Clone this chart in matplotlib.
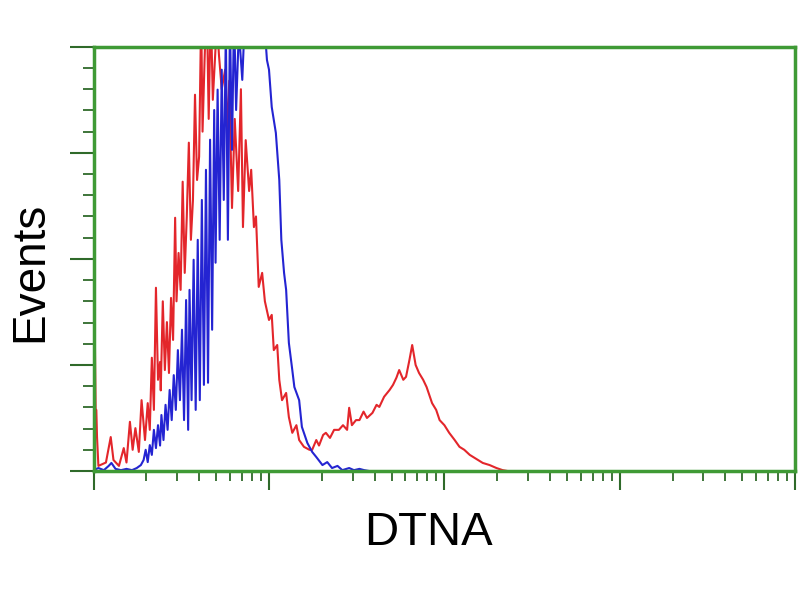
import numpy as np
import matplotlib
matplotlib.use('Agg')
import matplotlib.pyplot as plt
from matplotlib.ticker import LogLocator, MultipleLocator, NullFormatter

plt.rcParams['font.family'] = ['Liberation Sans', 'DejaVu Sans']

# log channel (256 channels per decade) and event counts
red_ch = [0, 2, 3, 4, 5, 7, 18, 25, 29, 37, 44, 48, 53, 57, 61, 66, 70, 75, 79, 82, 85, 88, 91,
          94, 97, 98, 101, 104, 107, 110, 113, 116, 119, 121, 124, 127, 130, 133, 136, 139,
          142, 145, 148, 151, 154, 157, 159, 162, 165, 168, 171, 174, 177, 180, 183, 187,
          192, 195, 198, 202, 206, 211, 215, 218, 222, 227, 230, 234, 237, 241, 246, 250,
          256, 260, 263, 268, 271, 275, 281, 285, 290, 296, 300, 307, 315, 319, 325, 329,
          335, 339, 345, 351, 358, 364, 370, 373, 377, 383, 388, 394, 399, 407, 413, 417,
          424, 432, 437, 442, 446, 452, 456, 461, 465, 470, 475, 481, 486, 490, 494, 500,
          505, 512, 519, 527, 534, 541, 549, 557, 568, 578, 588, 597, 604]
red_counts = [29.0, 29.0, 14.4, 14.4, 8.0, 1.2, 2.0, 8.0, 2.6, 1.2, 5.4, 2.0, 11.6, 5.0, 10.1,
              4.5, 16.7, 7.3, 16.0, 9.7, 26.7, 14.4, 43.2, 21.5, 25.7, 19.0, 40.0, 23.8, 35.1,
              23.1, 40.8, 30.9, 59.7, 40.0, 51.4, 42.7, 68.2, 46.7, 60.0, 77.4, 54.5, 63.9,
              88.7, 68.6, 74.1, 108, 80.0, 97.0, 112, 83.0, 110, 87.5, 97.0, 106, 98.0, 90.0,
              94.6, 80.0, 92.0, 62.0, 83.0, 66.0, 90.0, 57.5, 78.0, 66.0, 71.0, 57.5, 60.0,
              43.4, 46.7, 40.0, 35.6, 36.8, 28.5, 29.7, 21.5, 16.7, 18.4, 12.7, 9.0, 10.8, 7.3,
              5.7, 5.0, 5.0, 7.3, 6.0, 8.5, 9.0, 7.8, 9.7, 9.7, 10.8, 9.7, 14.9, 10.8, 12.0,
              12.0, 14.0, 12.5, 13.7, 15.6, 15.1, 17.5, 19.1, 20.3, 22.0, 23.8, 21.5, 22.2,
              26.2, 29.7, 25.0, 23.1, 21.5, 19.8, 17.9, 16.0, 14.4, 12.0, 10.8, 9.0, 7.3, 5.7,
              5.0, 3.8, 3.0, 1.9, 1.4, 0.7, 0.2, 0.0]

blue_ch = [0, 7, 15, 22, 26, 32, 40, 48, 56, 63, 69, 73, 76, 79, 82, 85, 88, 91, 94, 97,
           99, 102, 105, 108, 111, 114, 117, 120, 123, 126, 129, 132, 135, 138, 140, 143,
           146, 149, 152, 155, 158, 161, 164, 167, 170, 173, 176, 178, 181, 184, 187, 190,
           193, 196, 199, 202, 205, 208, 212, 217, 221, 227, 234, 241, 249, 253, 256, 260,
           266, 271, 274, 278, 281, 285, 290, 293, 300, 304, 312, 319, 325, 334, 341, 348,
           356, 363, 373, 380, 388, 395, 402]
blue_counts = [0.2, 0.7, 0.2, 1.2, 1.9, 0.5, 0.2, 0.5, 0.2, 0.7, 1.4, 2.6, 5.0, 2.1, 6.1,
               3.8, 9.7, 5.4, 10.8, 6.0, 13.2, 7.3, 15.6, 9.7, 19.1, 12.0, 22.6, 14.4, 28.5,
               16.7, 33.3, 12.0, 40.3, 9.7, 42.7, 16.7, 49.8, 14.4, 54.5, 16.7, 63.9, 20.3,
               71.0, 20.8, 78.1, 33.3, 85.1, 49.1, 89.9, 54.5, 94.6, 63.9, 104, 54.5, 106,
               75.7, 108, 85.1, 104, 92.2, 108, 115, 120, 118, 106, 96.9, 94.6, 85.8, 79.7,
               68.6, 54.5, 46.7, 42.7, 30.2, 23.8, 19.8, 16.7, 10.4, 6.6, 4.5, 3.3, 1.4, 2.1,
               0.7, 1.2, 0.2, 0.7, 0.2, 0.5, 0.2, 0.0]

green = '#3f9a35'

fig = plt.figure(figsize=(8, 6), dpi=100)
ax = fig.add_axes([0.117, 0.215, 0.877, 0.707])

red_x = 10 ** (np.array(red_ch) / 256.0)
blue_x = 10 ** (np.array(blue_ch) / 256.0)
ax.plot(red_x, red_counts, color='#e3262b', lw=1.5)
ax.plot(blue_x, blue_counts, color='#2424d2', lw=1.5)

ax.set_xscale('log')
ax.set_xlim(1, 1e4)
ax.set_ylim(0, 100)

ax.xaxis.set_major_locator(LogLocator(base=10, numticks=10))
ax.xaxis.set_minor_locator(LogLocator(base=10, subs=np.arange(2, 10), numticks=50))
ax.xaxis.set_major_formatter(NullFormatter())
ax.xaxis.set_minor_formatter(NullFormatter())
ax.yaxis.set_major_locator(MultipleLocator(25))
ax.yaxis.set_minor_locator(MultipleLocator(5))
ax.yaxis.set_major_formatter(NullFormatter())

for side in ['left', 'right', 'top', 'bottom']:
    ax.spines[side].set_color(green)
    ax.spines[side].set_linewidth(2.5)

ax.tick_params(axis='both', which='major', direction='out', color='#2f6a2a', width=1.5)
ax.tick_params(axis='both', which='minor', direction='out', color='#2f6a2a', width=1.3)
ax.tick_params(axis='y', which='major', length=17)
ax.tick_params(axis='y', which='minor', length=8)
ax.tick_params(axis='x', which='major', length=14)
ax.tick_params(axis='x', which='minor', length=7)
ax.tick_params(top=False, right=False)

fig.text(0.535, 0.112, 'DTNA', fontsize=34, ha='center', va='center')
fig.text(0.038, 0.547, 'Events', fontsize=33, ha='center', va='center', rotation=90)

fig.savefig('out.png', dpi=100)
